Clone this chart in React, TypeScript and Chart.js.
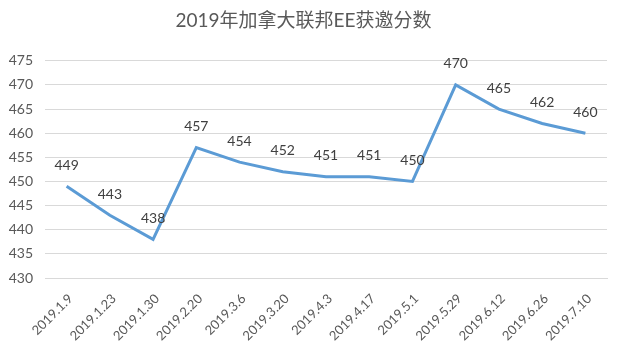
import React, { useEffect, useRef } from "react";
import { Chart, registerables } from "chart.js";

Chart.register(...registerables);

const categories = [
  "2019.1.9", "2019.1.23", "2019.1.30", "2019.2.20", "2019.3.6", "2019.3.20",
  "2019.4.3", "2019.4.17", "2019.5.1", "2019.5.29", "2019.6.12", "2019.6.26", "2019.7.10",
];
const scores = [449, 443, 438, 457, 454, 452, 451, 451, 450, 470, 465, 462, 460];
const titleText = "2019年加拿大联邦EE获邀分数";
const yMin = 430;
const yMax = 475;
const yStep = 5;

const FONT = "Lato, 'Noto Sans CJK SC', sans-serif";

const dataLabelPlugin = {
  id: "dataLabels",
  afterDatasetsDraw(chart: any) {
    const ctx = chart.ctx;
    const meta = chart.getDatasetMeta(0);
    const values = chart.data.datasets[0].data;
    ctx.save();
    ctx.font = "14px " + FONT;
    ctx.fillStyle = "#404040";
    ctx.textAlign = "center";
    ctx.textBaseline = "bottom";
    meta.data.forEach((pt: any, i: number) => {
      ctx.fillText(String(values[i]), pt.x, pt.y - 14);
    });
    ctx.restore();
  },
};

export default function App() {
  const ref = useRef<HTMLCanvasElement | null>(null);
  useEffect(() => {
    document.body.style.margin = "0";
    const chart = new Chart(ref.current as HTMLCanvasElement, {
      type: "line",
      data: {
        labels: categories,
        datasets: [
          {
            data: scores,
            borderColor: "#5B9BD5",
            borderWidth: 3,
            pointRadius: 0,
            tension: 0,
            fill: false,
          },
        ],
      },
      options: {
        animation: false,
        responsive: false,
        maintainAspectRatio: false,
        layout: { padding: { left: 0, right: 18, top: 0, bottom: 0 } },
        plugins: {
          legend: { display: false },
          tooltip: { enabled: false },
          title: {
            display: true,
            text: titleText,
            color: "#595959",
            font: { family: FONT, size: 19, weight: "normal" },
            padding: { top: 9, bottom: 29 },
          },
        },
        scales: {
          x: {
            offset: true,
            grid: { display: false, drawTicks: false },
            border: { display: true, color: "#d9d9d9" },
            ticks: {
              color: "#595959",
              font: { family: FONT, size: 13 },
              minRotation: 45,
              maxRotation: 45,
              autoSkip: false,
              padding: 13,
              labelOffset: 4,
            },
            afterFit(scale: any) {
              scale.height = 82;
            },
          },
          y: {
            min: yMin,
            max: yMax,
            grid: { color: "#d9d9d9", drawTicks: false },
            border: { display: false },
            ticks: {
              stepSize: yStep,
              color: "#595959",
              font: { family: FONT, size: 14 },
              padding: 12,
            },
            afterFit(scale: any) {
              scale.width = 45;
            },
          },
        },
      },
      plugins: [dataLabelPlugin],
    });
    return () => chart.destroy();
  }, []);
  return (
    <div style={{ width: 625, height: 360, background: "#fff" }}>
      <canvas ref={ref} width={625} height={360} />
    </div>
  );
}
